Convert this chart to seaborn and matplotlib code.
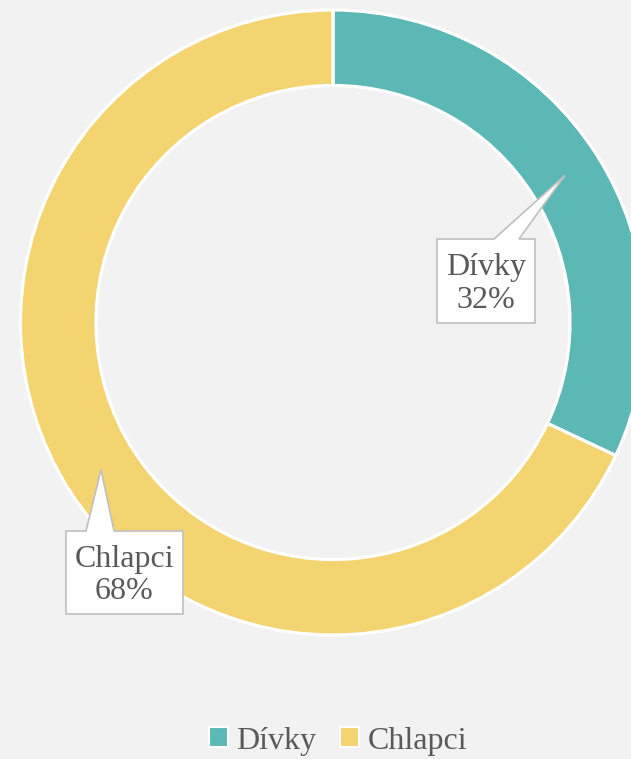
import matplotlib; matplotlib.use("Agg")
import numpy as np
import matplotlib.pyplot as plt
import seaborn as sns
from matplotlib.patches import Polygon, Patch

labels = ["Dívky", "Chlapci"]
shares = [32, 68]
colors = ["#5BB8B4", "#F4D470"]

BG = "#F2F2F2"
TXT = "#595959"
W, H = 631, 759

sns.set_theme(style="white")
plt.rcParams["font.family"] = ["Liberation Serif", "DejaVu Serif"]

fig = plt.figure(figsize=(W / 100, H / 100), dpi=100, facecolor=BG)
ax = fig.add_axes([0, 0, 1, 1], facecolor=BG)

cx, cy, r_out, ring = 333, H - 322.5, 312.5, 75.5
wedges, _ = ax.pie(shares, colors=colors, startangle=90, counterclock=False,
                   radius=r_out, center=(cx, cy),
                   wedgeprops=dict(width=ring, edgecolor="white", linewidth=2.3))
ax.set_xlim(0, W); ax.set_ylim(0, H); ax.axis("off")

# callouts: box centre (px from top-left), box size, pointer base x-range
boxes = {"Dívky": ((486, 281), (98, 84), (494, 519)),
         "Chlapci": ((124.5, 572.5), (117, 83), (86, 114))}
for w, lab, val in zip(wedges, labels, shares):
    mid = np.deg2rad((w.theta1 + w.theta2) / 2)
    rm = r_out - ring / 2
    tip = (cx + rm * np.cos(mid), cy + rm * np.sin(mid))
    (bx, by), (bw, bh), (p0, p1) = boxes[lab]
    by = H - by
    l, r, t, b = bx - bw / 2, bx + bw / 2, by + bh / 2, by - bh / 2
    poly = [(l, b), (l, t), (p0, t), tip, (p1, t), (r, t), (r, b)]
    ax.add_patch(Polygon(poly, closed=True, facecolor="white", edgecolor="#BFBFBF",
                         linewidth=1.2, zorder=5))
    ax.text(bx, by - 3, f"{lab}\n{val}%", ha="center", va="center", fontsize=23,
            color=TXT, linespacing=1.15, zorder=6)

handles = [Patch(facecolor=c, edgecolor="white", linewidth=1.5) for c in colors]
fig.legend(handles, labels, loc="center", bbox_to_anchor=(338 / W, 18 / H), ncol=2,
           frameon=False, fontsize=23, labelcolor=TXT, handlelength=0.6,
           handleheight=0.6, handletextpad=0.25, columnspacing=0.75)

fig.savefig("out.png", dpi=100, facecolor=BG)
